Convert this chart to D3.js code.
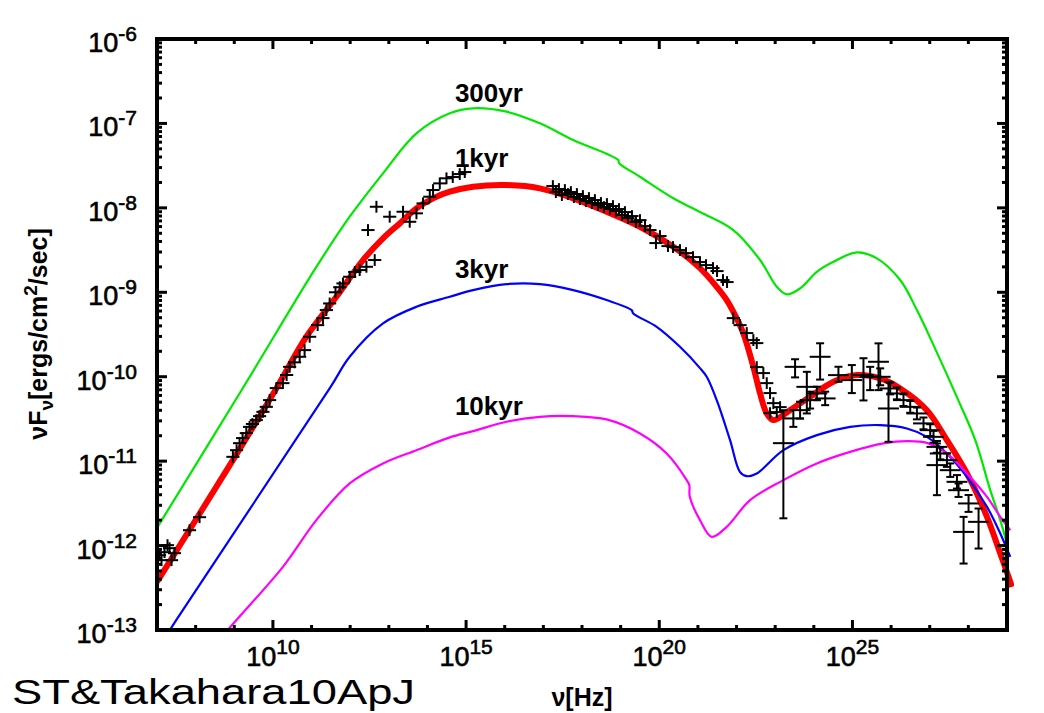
<!DOCTYPE html>
<html lang="en">
<head>
<meta charset="UTF-8">
<title>SNR broadband spectrum</title>
<script src="https://d3js.org/d3.v7.min.js"></script>
<style>
  body { margin: 0; background: #fff; }
  svg { display: block; font-family: "Liberation Sans", Arial, sans-serif; }
</style>
</head>
<body>
<div id="chart"></div>
<script>
// model curves, [log10 nu (Hz), log10 nuFnu (erg/cm2/s)]
const curve300yr = [[7.0,-11.79],[9.215,-10.14],[11.124,-8.70],[11.987,-8.105],[12.85,-7.591],[13.715,-7.117],[14.578,-6.88],
  [15.18,-6.821],[16.047,-6.861],[16.909,-6.999],[17.772,-7.197],[18.938,-7.434],[18.96,-7.47],[19.5,-7.632],[20.363,-7.887],
  [21.054,-8.05],[21.917,-8.263],[22.609,-8.618],[23.041,-8.935],[23.30,-9.025],[23.645,-8.954],[24.078,-8.757],[24.508,-8.639],
  [25.114,-8.527],[25.632,-8.598],[26.236,-8.855],[26.668,-9.211],[27.098,-9.626],[27.738,-10.277],[28.179,-10.751],
  [28.567,-11.344],[28.826,-11.699],[29.03,-12.031]];
const curve1kyr = [[7.0,-12.43],[8.964,-10.988],[10.088,-10.139],[10.865,-9.527],[11.642,-9.053],[12.332,-8.618],[12.85,-8.361],
  [13.282,-8.184],[13.715,-8.006],[14.145,-7.887],[14.578,-7.809],[15.18,-7.75],[16.047,-7.73],[16.909,-7.769],[17.772,-7.887],
  [18.637,-8.046],[19.5,-8.224],[20.363,-8.461],[21.054,-8.713],[21.487,-8.935],[21.746,-9.092],[21.961,-9.27],[22.176,-9.487],
  [22.435,-9.883],[22.609,-10.198],[22.782,-10.435],[22.953,-10.514],[23.386,-10.396],[23.904,-10.238],[24.508,-10.06],
  [25.114,-9.981],[25.718,-10.02],[26.236,-10.139],[26.927,-10.396],[27.445,-10.751],[27.963,-11.146],[28.482,-11.66],
  [28.826,-12.094],[29.13,-12.489]];
const curve3kyr = [[7.2,-13.10],[7.497,-12.884],[11.469,-10.139],[11.987,-9.764],[12.85,-9.369],[13.715,-9.172],[14.578,-9.053],
  [15.18,-8.974],[16.047,-8.903],[16.909,-8.903],[17.772,-8.974],[18.637,-9.092],[19.285,-9.211],[19.326,-9.25],[19.933,-9.409],
  [20.536,-9.646],[21.054,-9.898],[21.228,-10.001],[21.487,-10.277],[21.832,-10.751],[22.091,-11.13],[22.264,-11.178],
  [22.523,-11.146],[23.212,-10.87],[24.078,-10.692],[24.94,-10.594],[25.718,-10.573],[26.409,-10.613],[26.927,-10.712],
  [27.445,-10.909],[27.963,-11.186],[28.482,-11.541],[28.826,-11.857],[29.085,-12.134]];
const curve10kyr = [[8.67,-13.085],[9.052,-12.884],[10.259,-12.252],[11.124,-11.699],[11.987,-11.264],[12.85,-11.027],
  [13.715,-10.87],[14.578,-10.719],[15.18,-10.645],[16.047,-10.534],[16.909,-10.475],[17.772,-10.467],[18.637,-10.506],
  [19.5,-10.672],[20.192,-10.909],[20.71,-11.225],[20.777,-11.284],[20.79,-11.423],[21.054,-11.699],[21.357,-11.897],
  [21.746,-11.778],[22.35,-11.462],[23.212,-11.225],[24.078,-11.027],[24.94,-10.89],[25.803,-10.79],[26.409,-10.763],
  [26.927,-10.783],[27.445,-10.909],[27.963,-11.146],[28.482,-11.423],[28.826,-11.66],[29.085,-11.818]];

const curveNames = ["300yr", "1kyr", "3kyr", "10kyr"];
const curveLabelAt = [[14.71, -6.743], [14.71, -7.513], [14.71, -8.835], [14.71, -10.455]];

// observed points, [log10 nu, log10 nuFnu]
const radioPts = [[7.065,-12.114],[7.194,-12.078],[7.324,-12.031],[7.376,-12.173],[7.117,-12.173],[7.272,-11.995],[7.453,-12.09],
  [7.842,-11.818],[8.101,-11.664],[8.964,-10.949],[9.06,-10.87],[9.137,-10.787],[9.215,-10.727],[9.311,-10.668],[9.396,-10.594],
  [9.47,-10.56],[9.57,-10.514],[9.655,-10.467],[9.741,-10.416],[9.829,-10.357],[9.915,-10.277],[10.088,-10.135],[10.259,-10.076],
  [10.355,-9.98],[10.433,-9.883],[10.56,-9.83],[10.692,-9.764],[10.82,-9.685],[10.951,-9.527],[11.158,-9.389],[11.295,-9.306],
  [11.383,-9.211],[11.469,-9.132],[11.62,-9.0],[11.73,-8.94],[11.813,-8.895],[11.987,-8.816],[12.12,-8.76],[12.246,-8.737],
  [12.42,-8.698],[12.635,-8.618],[12.461,-8.263],[12.679,-7.987],[13.023,-8.105],[13.368,-8.046],[13.541,-8.165],[13.715,-8.065],
  [13.886,-7.947],[14.06,-7.868],[14.145,-7.789],[14.319,-7.71],[14.492,-7.65],[14.655,-7.635],[14.836,-7.6],[14.966,-7.576]];
const xrayPts = [[17.246,-7.742],[17.324,-7.813],[17.402,-7.777],[17.479,-7.848],[17.557,-7.789],[17.635,-7.836],[17.712,-7.813],
  [17.79,-7.872],[17.868,-7.836],[17.946,-7.896],[18.023,-7.86],[18.101,-7.919],[18.179,-7.884],[18.256,-7.943],[18.334,-7.908],
  [18.412,-7.967],[18.49,-7.943],[18.567,-7.991],[18.645,-7.955],[18.723,-8.014],[18.801,-7.979],[18.878,-8.038],[18.956,-8.014],
  [19.034,-8.085],[19.111,-8.05],[19.189,-8.121],[19.293,-8.097],[19.396,-8.168],[19.5,-8.145],[19.63,-8.216],[19.759,-8.263],
  [19.914,-8.417],[20.018,-8.334],[20.225,-8.453],[20.355,-8.464],[20.536,-8.5],[20.692,-8.536],[20.873,-8.583],[21.054,-8.642],
  [21.21,-8.678],[21.391,-8.713],[21.495,-8.749],[21.65,-8.855],[21.754,-8.879],[21.917,-9.306],[22.091,-9.389],[22.264,-9.483],
  [22.435,-9.566],[22.523,-9.602],[22.523,-9.886],[22.694,-9.957],[22.782,-10.076],[22.867,-10.194],[22.953,-10.313],
  [23.127,-10.36],[22.867,-10.431],[23.041,-10.419]];
// gamma-ray points, [log10 nu, log10 nuFnu, upper error, lower error] (dex)
const gammaPts = [[23.212,-10.787,0.39,0.89],[23.515,-9.883,0.09,0.125],[24.163,-9.764,0.16,0.27],[23.819,-10.12,0.178,0.315],
  [23.47,-10.494,0.1,0.1],[23.645,-10.396,0.1,0.1],[23.904,-10.277,0.1,0.1],[24.078,-10.198,0.08,0.08],[24.294,-10.257,0.08,0.08],
  [24.637,-9.981,0.099,0.079],[24.984,-10.04,0.178,0.154],[25.285,-9.981,0.2,0.3],[25.458,-10.001,0.118,0.158],
  [25.674,-9.823,0.218,0.336],[25.718,-10.001,0.1,0.1],[25.933,-10.376,0.316,0.395],[25.977,-10.139,0.07,0.07],
  [26.15,-10.198,0.07,0.07],[26.321,-10.277,0.07,0.07],[26.495,-10.357,0.07,0.07],[26.668,-10.435,0.07,0.07],
  [26.839,-10.553,0.07,0.07],[27.013,-10.633,0.07,0.07],[27.098,-10.712,0.07,0.07],[27.186,-10.831,0.07,0.07],
  [27.272,-10.909,0.07,0.07],[27.186,-11.047,0.257,0.356],[27.445,-10.988,0.08,0.08],[27.531,-11.107,0.08,0.08],
  [27.705,-11.245,0.08,0.08],[27.746,-11.344,0.08,0.08],[28.005,-11.501,0.1,0.1],[27.876,-11.838,0.178,0.375],
  [28.264,-11.719,0.158,0.316]];

const xMajor = [10, 15, 20, 25];
const yDecades = [-6, -7, -8, -9, -10, -11, -12, -13];

const W = 1044, H = 713;
const mLeft = 157, mRight = 1007, mTop = 39, mBottom = 630;

const svg = d3.select("#chart").append("svg")
  .attr("width", W).attr("height", H);

const x = d3.scaleLog().domain([1e7, 1e29]).range([mLeft, mRight]);
const y = d3.scaleLog().domain([1e-13, 1e-6]).range([mBottom, mTop]);
const px = d => x(Math.pow(10, d));
const py = d => y(Math.pow(10, d));

svg.append("clipPath").attr("id", "clip")
  .append("rect").attr("x", mLeft).attr("y", mTop).attr("width", mRight - mLeft + 7).attr("height", mBottom - mTop);

const line = d3.line().x(d => px(d[0])).y(d => py(d[1])).curve(d3.curveCatmullRom.alpha(0.5));

const plot = svg.append("g").attr("clip-path", "url(#clip)");

// model lines
const models = [
  { data: curve300yr, color: "#00e800", w: 2.2 },
  { data: curve1kyr, color: "#ff0000", w: 6 },
  { data: curve3kyr, color: "#0000ff", w: 2.2 },
  { data: curve10kyr, color: "#ff00ff", w: 2.2 }
];
models.forEach(m => {
  plot.append("path").datum(m.data)
    .attr("d", line)
    .attr("fill", "none")
    .attr("stroke", m.color)
    .attr("stroke-width", m.w)
    .attr("stroke-linejoin", "round");
});

// data crosses
const pts = plot.append("g").attr("stroke", "#000").attr("stroke-width", 2);
function cross(d, dx, up, lo, cap) {
  const cx = px(d[0]), cy = py(d[1]);
  pts.append("line").attr("x1", px(d[0] - dx)).attr("x2", px(d[0] + dx)).attr("y1", cy).attr("y2", cy);
  const y1 = py(d[1] + up), y2 = py(d[1] - lo);
  pts.append("line").attr("x1", cx).attr("x2", cx).attr("y1", y1).attr("y2", y2);
  if (cap) {
    [y1, y2].forEach(v => pts.append("line").attr("x1", cx - 4).attr("x2", cx + 4).attr("y1", v).attr("y2", v));
  }
}
radioPts.forEach(d => cross(d, 0.17, 0.07, 0.07, false));
xrayPts.forEach(d => cross(d, 0.17, 0.07, 0.07, false));
gammaPts.forEach(d => cross(d, 0.27, d[2], d[3], true));

// curve labels
svg.append("g").selectAll("text").data(curveNames).join("text")
  .attr("x", (d, i) => px(curveLabelAt[i][0]))
  .attr("y", (d, i) => py(curveLabelAt[i][1]))
  .attr("font-size", 26).attr("font-weight", "bold")
  .text(d => d);

// ticks
const tickG = svg.append("g").attr("stroke", "#000").attr("stroke-width", 3);
const xAll = d3.range(8, 29);
xAll.forEach(e => {
  const len = xMajor.includes(e) ? 10 : 5;
  const xv = px(e);
  tickG.append("line").attr("x1", xv).attr("x2", xv).attr("y1", mBottom).attr("y2", mBottom - len);
  tickG.append("line").attr("x1", xv).attr("x2", xv).attr("y1", mTop).attr("y2", mTop + len);
});
d3.range(-13, -6).forEach(dec => {
  d3.range(1, 10).forEach(k => {
    const yv = y(k * Math.pow(10, dec));
    const len = k === 1 ? 10 : 5;
    tickG.append("line").attr("x1", mLeft).attr("x2", mLeft + len).attr("y1", yv).attr("y2", yv);
    tickG.append("line").attr("x1", mRight).attr("x2", mRight - len).attr("y1", yv).attr("y2", yv);
  });
});

// frame
svg.append("rect").attr("x", mLeft).attr("y", mTop).attr("width", mRight - mLeft).attr("height", mBottom - mTop)
  .attr("fill", "none").attr("stroke", "#000").attr("stroke-width", 4);

// tick labels (slightly heavier than regular)
const lab = svg.append("g").attr("stroke", "#000").attr("stroke-width", 0.6);
xMajor.forEach(e => {
  const t = lab.append("text").attr("x", px(e)).attr("y", 666).attr("text-anchor", "middle").attr("font-size", 27);
  t.append("tspan").text("10");
  t.append("tspan").attr("dy", -12).attr("font-size", 21).text(e);
});
yDecades.forEach(e => {
  const t = lab.append("text").attr("x", 137).attr("y", py(e) + 13).attr("text-anchor", "end").attr("font-size", 27);
  t.append("tspan").text("10");
  t.append("tspan").attr("dy", -11).attr("font-size", 21).text(e);
});

// axis titles
svg.append("text").attr("x", (mLeft + mRight) / 2).attr("y", 706).attr("text-anchor", "middle")
  .attr("font-size", 25).attr("font-weight", "bold").text("ν[Hz]");

const yt = svg.append("text").attr("transform", "translate(47,334) rotate(-90)")
  .attr("text-anchor", "middle").attr("font-size", 25).attr("font-weight", "bold");
yt.append("tspan").text("νF");
yt.append("tspan").attr("dy", 6).attr("font-size", 19).text("ν");
yt.append("tspan").attr("dy", -6).text("[ergs/cm");
yt.append("tspan").attr("dy", -10).attr("font-size", 19).text("2");
yt.append("tspan").attr("dy", 10).text("/sec]");

// citation
svg.append("text").attr("x", 12).attr("y", 704).attr("font-size", 35)
  .attr("textLength", 403).attr("lengthAdjust", "spacingAndGlyphs")
  .text("ST&Takahara10ApJ");
</script>
</body>
</html>
